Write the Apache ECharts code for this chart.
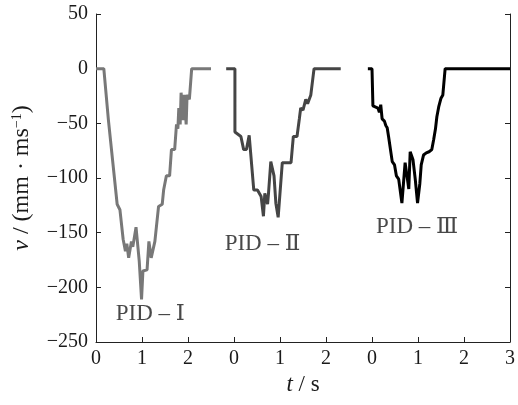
<!DOCTYPE html>
<html>
<head>
<meta charset="utf-8">
<script src="https://cdn.jsdelivr.net/npm/echarts@6/dist/echarts.min.js"></script>
<style>
html, body { margin: 0; padding: 0; background: #fff; }
#chart { width: 518px; height: 405px; }
</style>
</head>
<body>
<div id="chart"></div>
<script>
// 三段 PID 速度曲线, 每段本地时间 (s) + 横轴偏移
var offsets = [0, 3, 6];

var t1 = [0, 0.17, 0.27, 0.30, 0.46, 0.52, 0.59, 0.64, 0.67, 0.71, 0.77, 0.80, 0.87, 0.94, 0.99, 1.02, 1.11, 1.15, 1.20, 1.28, 1.36, 1.44, 1.47, 1.53, 1.60, 1.64, 1.71, 1.75, 1.78, 1.80, 1.83, 1.85, 1.90, 1.92, 1.96, 1.98, 2.03, 2.08, 2.50];
var v1 = [0, 0, -47, -48, -124, -129, -156, -167, -160, -173, -158, -163, -145, -176, -211, -185, -184, -158, -173, -158, -126, -124, -111, -98, -98, -74, -74, -51, -55, -36, -51, -22, -47, -24, -51, -24, -28, 0, 0];

var t2 = [-0.17, 0.02, 0.02, 0.15, 0.21, 0.27, 0.33, 0.43, 0.51, 0.59, 0.64, 0.67, 0.73, 0.75, 0.80, 0.87, 0.91, 0.96, 1.05, 1.24, 1.29, 1.37, 1.42, 1.45, 1.50, 1.56, 1.60, 1.67, 1.74, 2.32];
var v2 = [0, 0, -58, -62, -74, -74, -61, -111, -111, -117, -135, -114, -124, -114, -85, -98, -123, -136, -86, -86, -62, -62, -46, -36, -38, -28, -32, -24, 0, 0];

var t3 = [-0.09, 0.00, 0.02, 0.13, 0.16, 0.19, 0.22, 0.27, 0.30, 0.33, 0.36, 0.44, 0.49, 0.53, 0.58, 0.65, 0.69, 0.72, 0.77, 0.80, 0.83, 0.89, 0.94, 0.99, 1.04, 1.07, 1.12, 1.18, 1.24, 1.30, 1.34, 1.38, 1.41, 1.45, 1.50, 1.54, 1.59, 3.00];
var v3 = [0, 0, -34, -36, -40, -33, -46, -48, -52, -54, -62, -85, -88, -98, -101, -123, -123, -86, -101, -110, -76, -83, -101, -123, -105, -88, -79, -77, -76, -74, -65, -55, -44, -35, -27, -24, 0, 0];

var names = ['PID – Ⅰ', 'PID – Ⅱ', 'PID – Ⅲ'];
var colors = ['#787878', '#454545', '#000000'];
// 标注位置 (本地时间, 速度)
var labelT = [1.18, 0.62, 0.98];
var labelV = [-224, -160, -145];

var xTicks = ['0', '1', '2', '0', '1', '2', '0', '1', '2', '3'];

function build(ts, vs, off) {
  var out = [];
  for (var i = 0; i < ts.length; i++) out.push([ts[i] + off, vs[i]]);
  return out;
}

var serif = '"Liberation Serif", "DejaVu Serif", serif';
var curves = [[t1, v1], [t2, v2], [t3, v3]];
var series = curves.map(function (c, i) {
  return {
    type: 'line',
    data: build(c[0], c[1], offsets[i]),
    showSymbol: false,
    lineStyle: { color: colors[i], width: 3 },
    z: 3 - i
  };
});
series.push({
  type: 'scatter',
  symbolSize: 0,
  data: names.map(function (n, i) { return { value: [labelT[i] + offsets[i], labelV[i]], name: n }; }),
  label: {
    show: true,
    position: 'inside',
    formatter: '{b}',
    color: '#1a1a1a',
    fontFamily: serif,
    fontSize: 23
  }
});

var myEchart = echarts.init(document.getElementById('chart'));
var yCommon = {
  type: 'value',
  min: -250,
  max: 50,
  interval: 50,
  splitLine: { show: false },
  axisLine: { show: true, lineStyle: { color: '#222', width: 1 } },
  axisTick: { show: true, inside: true, length: 5, lineStyle: { color: '#222' } }
};
myEchart.setOption({
  animation: false,
  grid: { left: 96, right: 6, top: 14, bottom: 63 },
  xAxis: {
    type: 'value',
    min: 0,
    max: 9,
    interval: 1,
    name: '{i|t} / s',
    nameLocation: 'middle',
    nameGap: 30,
    nameTextStyle: {
      fontFamily: serif, fontSize: 23, color: '#1a1a1a',
      rich: { i: { fontFamily: serif, fontSize: 23, fontStyle: 'italic', color: '#1a1a1a' } }
    },
    splitLine: { show: false },
    axisLine: { show: true, onZero: false, lineStyle: { color: '#222', width: 1 } },
    axisTick: { show: true, inside: true, length: 5, lineStyle: { color: '#222' } },
    axisLabel: {
      margin: 7,
      fontFamily: serif, fontSize: 20, color: '#1a1a1a',
      formatter: function (v) { return xTicks[Math.round(v)]; }
    }
  },
  yAxis: [
    Object.assign({}, yCommon, {
      position: 'left',
      name: '{i|v} / (mm · ms{sup|−1})',
      nameLocation: 'middle',
      nameGap: 62,
      nameTextStyle: {
        fontFamily: serif, fontSize: 24, color: '#1a1a1a',
        rich: {
          i: { fontFamily: serif, fontSize: 24, fontStyle: 'italic', color: '#1a1a1a' },
          sup: { fontFamily: serif, fontSize: 14, verticalAlign: 'top', color: '#1a1a1a' }
        }
      },
      axisLabel: {
        margin: 8,
        fontFamily: serif, fontSize: 20, color: '#1a1a1a',
        formatter: function (v) { return String(v).replace('-', '−'); }
      }
    }),
    Object.assign({}, yCommon, {
      position: 'right',
      axisLabel: { show: false }
    })
  ],
  series: series
});
</script>
</body>
</html>
